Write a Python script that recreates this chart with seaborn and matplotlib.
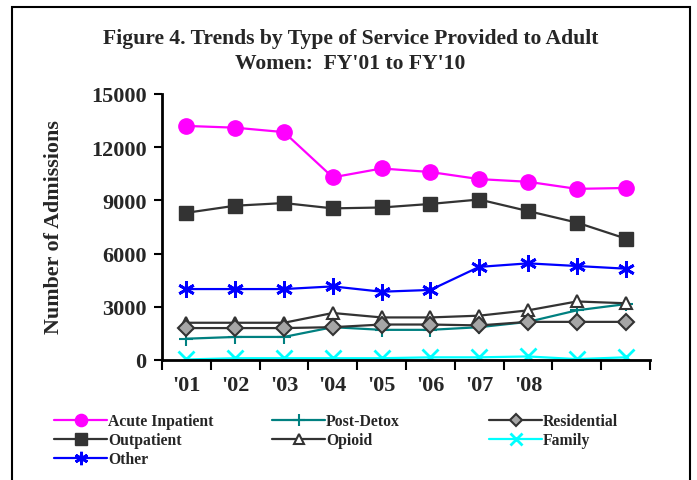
import seaborn as sns
import pandas as pd
import numpy as np
import matplotlib.pyplot as plt
from matplotlib.patches import Rectangle

# data
years = ["'01", "'02", "'03", "'04", "'05", "'06", "'07", "'08", "'09", "'10"]
tick_labels = ["'01", "'02", "'03", "'04", "'05", "'06", "'07", "'08", "", ""]

acute_inpatient = [13200, 13100, 12850, 10300, 10800, 10600, 10200, 10050, 9650, 9700]
outpatient = [8300, 8700, 8850, 8550, 8600, 8800, 9050, 8400, 7750, 6850]
other = [4000, 4000, 4000, 4150, 3850, 3950, 5250, 5450, 5300, 5150]
post_detox = [1200, 1300, 1300, 1850, 1700, 1700, 1850, 2150, 2800, 3150]
opioid = [2100, 2100, 2100, 2650, 2400, 2400, 2500, 2800, 3300, 3200]
residential = [1800, 1800, 1800, 1850, 2000, 2000, 1950, 2150, 2150, 2150]
family = [30, 100, 100, 100, 100, 150, 150, 200, 50, 150]

series = {
    "Acute Inpatient": acute_inpatient,
    "Outpatient": outpatient,
    "Other": other,
    "Post-Detox": post_detox,
    "Opioid": opioid,
    "Residential": residential,
    "Family": family,
}

styles = {
    "Acute Inpatient": dict(color="#FF00FF", marker="o", markersize=11, mfc="#FF00FF", mec="#FF00FF"),
    "Outpatient": dict(color="#333333", marker="s", markersize=10, mfc="#333333", mec="#333333"),
    "Other": dict(color="#0000FF", marker=(6, 2, 0), markersize=12, mfc="#0000FF", mec="#0000FF", mew=2),
    "Post-Detox": dict(color="#008080", marker="+", markersize=10, mfc="#008080", mec="#008080", mew=1.5),
    "Opioid": dict(color="#333333", marker="^", markersize=9, mfc="white", mec="#333333", mew=1.5),
    "Residential": dict(color="#333333", marker="D", markersize=8, mfc="#A6A6A6", mec="#333333", mew=1.5),
    "Family": dict(color="#00FFFF", marker="x", markersize=11, mfc="#00FFFF", mec="#00FFFF", mew=2),
}

sns.set_theme(style="white")
plt.rcParams['font.family'] = ['Liberation Serif', 'DejaVu Serif']
plt.rcParams['font.weight'] = 'bold'

fig = plt.figure(figsize=(6.97, 4.81), dpi=100)
ax = fig.add_axes([0.2324, 0.2495, 0.7002, 0.553])

x = np.arange(len(years))
for name, vals in series.items():
    st = styles[name]
    sns.lineplot(x=x, y=vals, ax=ax, color=st["color"], linewidth=1.6,
                 marker=st["marker"], markersize=st["markersize"],
                 markerfacecolor=st["mfc"], markeredgecolor=st["mec"],
                 markeredgewidth=st.get("mew", 1), label=name)

ax.set_xlim(-0.5, 9.5)
ax.set_ylim(0, 15000)
ax.set_yticks([0, 3000, 6000, 9000, 12000, 15000])
ax.set_yticklabels(["0", "3000", "6000", "9000", "12000", "15000"], fontsize=16, fontweight='bold')
ax.set_xticks(x)
ax.set_xticklabels(tick_labels, fontsize=16, fontweight='bold')
ax.set_xticks(np.arange(-0.5, 10, 1), minor=True)
ax.tick_params(axis='x', which='major', length=0, pad=11)
ax.tick_params(axis='x', which='minor', length=7, width=1.5, direction='out', color='black', bottom=True)
ax.tick_params(axis='y', which='major', length=6, width=1.5, direction='out', color='black', left=True, pad=5)
for s in ['top', 'right']:
    ax.spines[s].set_visible(False)
for s in ['left', 'bottom']:
    ax.spines[s].set_color('black')
    ax.spines[s].set_linewidth(2)
ax.set_xlabel("")
ax.set_ylabel("")
fig.text(0.078, 0.527, "Number of Admissions", rotation=90, ha='center', va='center',
         fontsize=15.8, fontweight='bold')

# legend in three fixed-position columns
handles, labels = ax.get_legend_handles_labels()
ax.get_legend().remove()
hmap = dict(zip(labels, handles))
columns = [["Acute Inpatient", "Outpatient", "Other"],
           ["Post-Detox", "Opioid"],
           ["Residential", "Family"]]
col_x = [54, 272, 489]
for names, cx in zip(columns, col_x):
    leg = fig.legend([hmap[n] for n in names], names, loc='upper left',
                     bbox_to_anchor=(cx / 697, 1 - 414 / 481),
                     frameon=False, handlelength=3.4, handletextpad=0.05,
                     labelspacing=0.2, borderpad=0, borderaxespad=0, markerscale=0.8,
                     prop={'weight': 'bold', 'size': 11.3})

fig.text(0.503, 0.893, "Figure 4. Trends by Type of Service Provided to Adult\nWomen:  FY'01 to FY'10",
         ha='center', va='center', fontsize=15.6, fontweight='bold', linespacing=1.35)

fig.patches.append(Rectangle((0.0172, -0.1), 0.9727, 1.083, transform=fig.transFigure,
                             fill=False, edgecolor='black', linewidth=1.5))

fig.savefig("out.png", dpi=100)
